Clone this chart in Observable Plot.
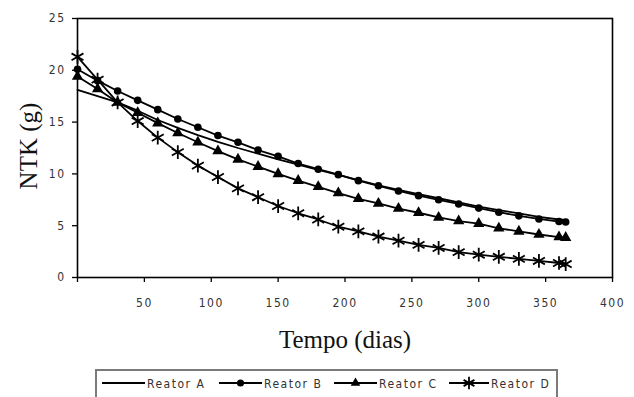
<!DOCTYPE html>
<html>
<head>
<meta charset="utf-8">
<script src="https://cdn.jsdelivr.net/npm/d3@7"></script>
<script src="https://cdn.jsdelivr.net/npm/@observablehq/plot@0.6"></script>
<style>
  html, body { margin: 0; padding: 0; background: #fff; }
  #wrap { position: relative; width: 634px; height: 397px; overflow: hidden; }
  g[aria-label="x-axis tick label"] text, g[aria-label="y-axis tick label"] text {
    font-family: "DejaVu Sans Condensed", "Liberation Sans Narrow", sans-serif; font-stretch: condensed; }
  #legend { position: absolute; left: 95px; top: 369px; width: 463px; height: 40px;
    border: 2px solid #7a7a7a; box-sizing: border-box; }
  #legend svg { position: absolute; left: 0; top: 0; }
</style>
</head>
<body>
<div id="wrap">
  <div id="chart"></div>
  <div id="legend"></div>
</div>
<script>
// Days of sampling
const days = [0, 15, 30, 45, 60, 75, 90, 105, 120, 135, 150, 165, 180, 195, 210, 225, 240, 255, 270, 285, 300, 315, 330, 345, 360, 365];
// NTK (g) per reactor
const reatorA = [18.1, 17.5, 16.9, 16.1, 15.2, 14.45, 13.75, 13.1, 12.5, 11.95, 11.4, 10.9, 10.4, 9.9, 9.4, 8.9, 8.45, 8.05, 7.65, 7.25, 6.85, 6.5, 6.2, 5.85, 5.6, 5.55];
const reatorB = [20.1, 19.0, 18.0, 17.1, 16.2, 15.3, 14.5, 13.7, 13.05, 12.3, 11.7, 11.0, 10.45, 9.93, 9.35, 8.85, 8.35, 7.9, 7.5, 7.1, 6.7, 6.3, 5.95, 5.65, 5.4, 5.35];
const reatorC = [19.4, 18.2, 16.9, 15.9, 14.9, 13.95, 13.05, 12.2, 11.4, 10.7, 10.0, 9.35, 8.75, 8.15, 7.6, 7.15, 6.65, 6.25, 5.8, 5.45, 5.2, 4.75, 4.45, 4.15, 3.9, 3.85];
const reatorD = [21.3, 19.1, 16.9, 15.1, 13.5, 12.1, 10.8, 9.7, 8.6, 7.75, 6.9, 6.2, 5.6, 4.9, 4.45, 3.95, 3.55, 3.15, 2.85, 2.45, 2.2, 2.0, 1.8, 1.6, 1.4, 1.3];

const seriesNames = ["Reator A", "Reator B", "Reator C", "Reator D"];
const seriesValues = [reatorA, reatorB, reatorC, reatorD];
const seriesSymbols = [null, "circle", "triangle", "asterisk"];

const xTicks = [0, 50, 100, 150, 200, 250, 300, 350, 400];
const yTicks = [0, 5, 10, 15, 20, 25];
const xTitle = "Tempo (dias)";
const yTitle = "NTK (g)";

const rows = [];
seriesNames.forEach((name, i) => {
  days.forEach((d, j) => rows.push({serie: name, dia: d, ntk: seriesValues[i][j]}));
});

const tickFont = "'DejaVu Sans Condensed', 'Liberation Sans Narrow', sans-serif";
const serif = "'Liberation Serif', 'Times New Roman', serif";

const marks = [
  Plot.frame({stroke: "#000", strokeWidth: 1.6}),
  Plot.axisX(xTicks, {tickSize: 5, tickPadding: 16, tickFormat: d => d === 0 ? "" : d, label: null,
    fontSize: 12, strokeWidth: 1.3, fill: "#333"}),
  Plot.axisY(yTicks, {tickSize: 5, tickPadding: 7, label: null, fontSize: 12, strokeWidth: 1.3, fill: "#333"}),
  Plot.text([xTitle], {frameAnchor: "bottom", dy: 70, textAnchor: "middle", fontSize: 25, fontFamily: serif, fill: "#111"}),
  Plot.text([yTitle], {frameAnchor: "left", dx: -49, dy: -2, rotate: -90, textAnchor: "middle", fontSize: 25, fontFamily: serif, fill: "#111"})
];
seriesNames.forEach((name, i) => {
  const data = rows.filter(r => r.serie === name);
  marks.push(Plot.line(data, {x: "dia", y: "ntk", stroke: "#000", strokeWidth: 1.8}));
  const sym = seriesSymbols[i];
  if (sym === "asterisk") {
    marks.push(Plot.dot(data, {x: "dia", y: "ntk", symbol: "asterisk", r: 6.5, stroke: "#000", strokeWidth: 1.8}));
  } else if (sym === "triangle") {
    marks.push(Plot.dot(data, {x: "dia", y: "ntk", symbol: "triangle", r: 4.2, fill: "#000", stroke: null}));
  } else if (sym === "circle") {
    marks.push(Plot.dot(data, {x: "dia", y: "ntk", symbol: "circle", r: 3.8, fill: "#000", stroke: null}));
  }
});

const chart = Plot.plot({
  width: 634,
  height: 365,
  marginLeft: 77,
  marginRight: 22,
  marginTop: 18,
  marginBottom: 88,
  style: {background: "#fff", color: "#000", overflow: "visible"},
  x: {domain: [0, 400]},
  y: {domain: [0, 25]},
  marks
});
chart.querySelectorAll('g[aria-label="x-axis tick label"] text, g[aria-label="y-axis tick label"] text').forEach(t => {
  t.setAttribute("letter-spacing", "1.5");
});
document.getElementById("chart").appendChild(chart);

// Legend
const legendItems = [
  {name: seriesNames[0], x0: 5, x1: 48, sym: seriesSymbols[0]},
  {name: seriesNames[1], x0: 122, x1: 165, sym: seriesSymbols[1]},
  {name: seriesNames[2], x0: 237, x1: 280, sym: seriesSymbols[2]},
  {name: seriesNames[3], x0: 352, x1: 392, sym: seriesSymbols[3]}
];
const lsvg = d3.select("#legend").append("svg").attr("width", 463).attr("height", 40);
const ly = 12;
legendItems.forEach(it => {
  lsvg.append("line").attr("x1", it.x0).attr("x2", it.x1).attr("y1", ly).attr("y2", ly)
    .attr("stroke", "#000").attr("stroke-width", 1.8);
  const cx = (it.x0 + it.x1) / 2;
  if (it.sym === "circle") {
    lsvg.append("path").attr("d", d3.symbol(d3.symbolCircle, 40)()).attr("transform", `translate(${cx},${ly})`).attr("fill", "#000");
  } else if (it.sym === "triangle") {
    lsvg.append("path").attr("d", d3.symbol(d3.symbolTriangle, 40)()).attr("transform", `translate(${cx},${ly})`).attr("fill", "#000");
  } else if (it.sym === "asterisk") {
    lsvg.append("path").attr("d", d3.symbol(d3.symbolAsterisk, 110)()).attr("transform", `translate(${cx},${ly})`).attr("fill", "none").attr("stroke", "#000").attr("stroke-width", 1.8);
  }
  lsvg.append("text").attr("x", it.x1 + 2).attr("y", ly + 5).text(it.name)
    .attr("font-family", tickFont).attr("font-size", 12).attr("letter-spacing", 1.5).attr("fill", "#333");
});
</script>
</body>
</html>
